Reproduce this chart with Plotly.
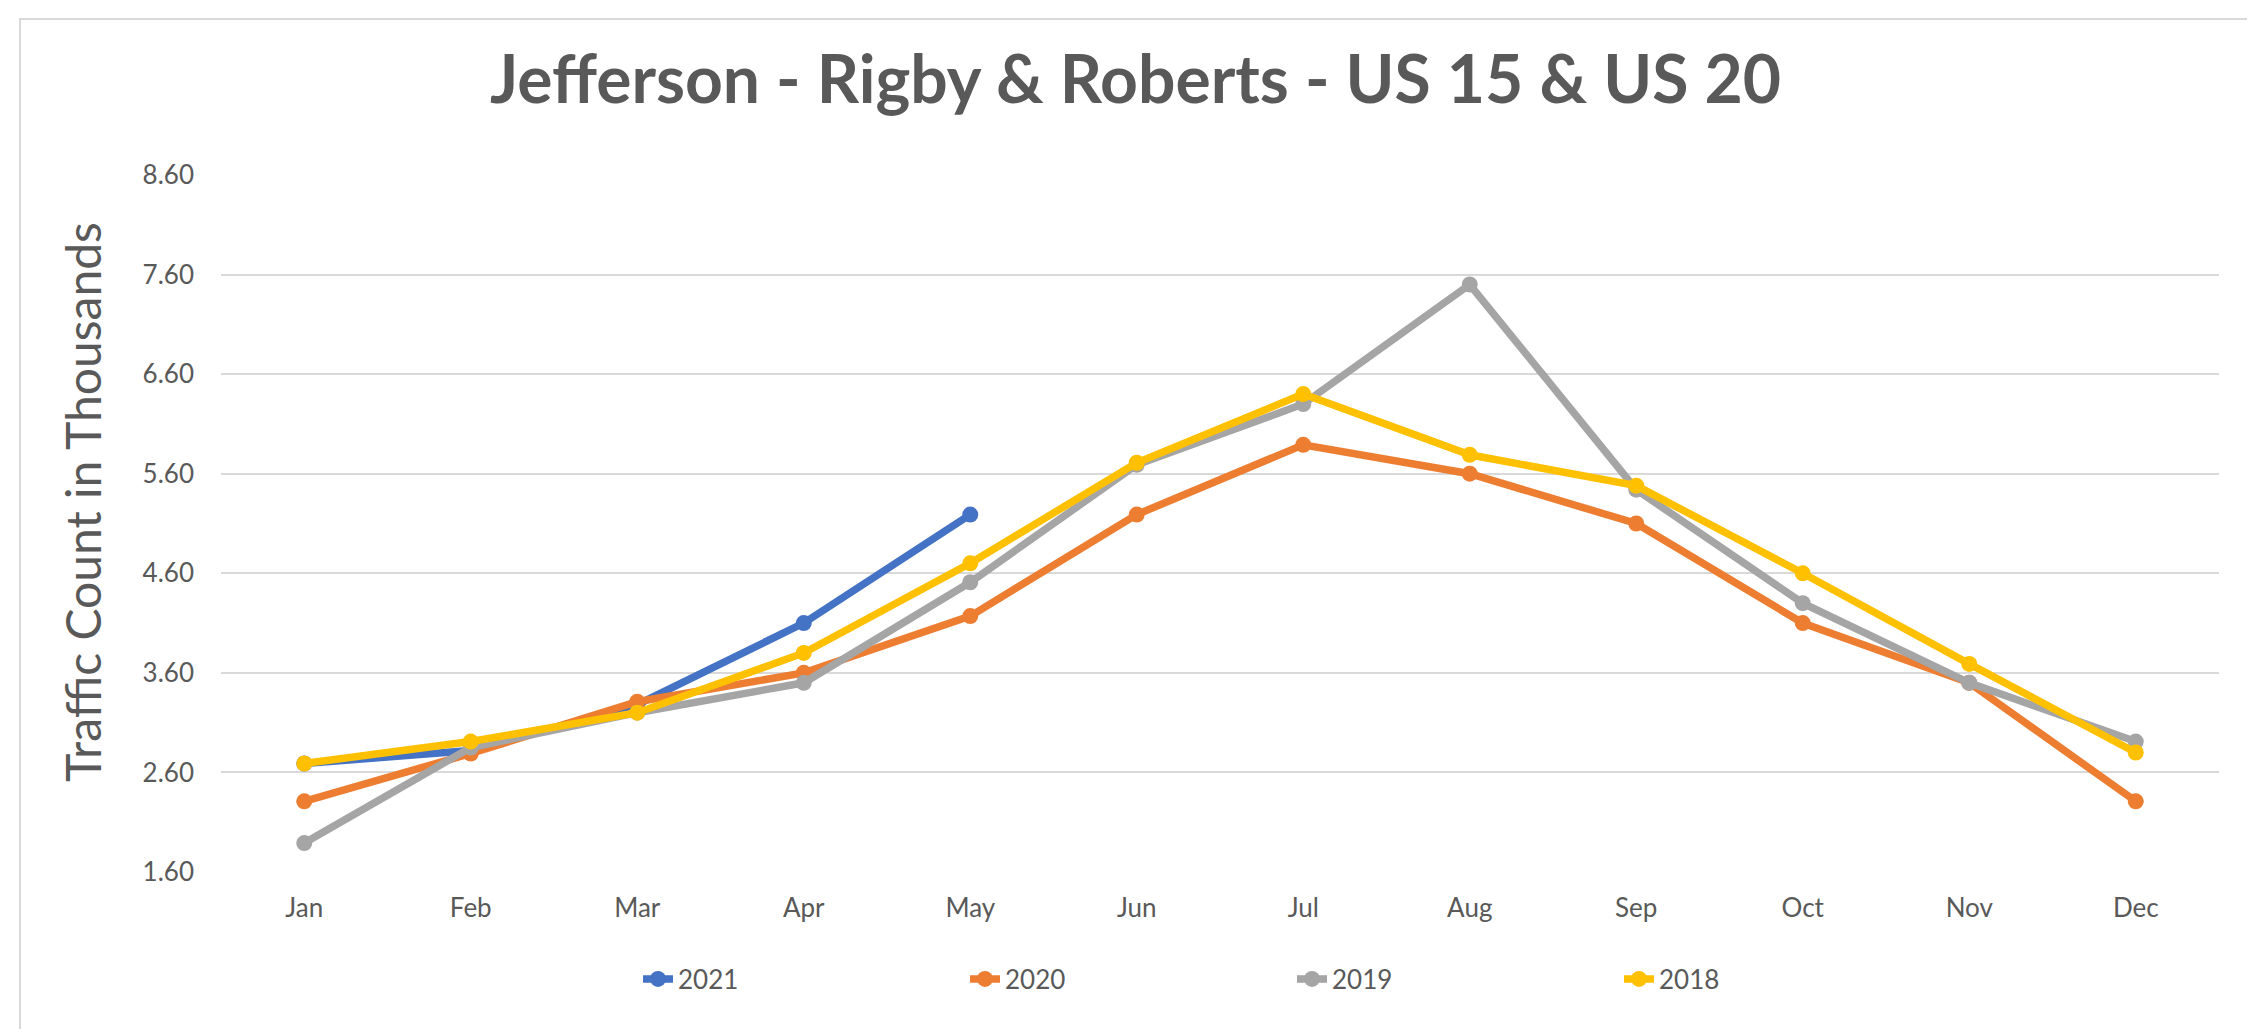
import plotly.graph_objects as go

months = ["Jan", "Feb", "Mar", "Apr", "May", "Jun", "Jul", "Aug", "Sep", "Oct", "Nov", "Dec"]
y2021 = [2.69, 2.82, 3.28, 4.10, 5.19]
y2020 = [2.31, 2.79, 3.31, 3.60, 4.17, 5.19, 5.89, 5.60, 5.10, 4.10, 3.50, 2.31]
y2019 = [1.89, 2.85, 3.20, 3.50, 4.51, 5.69, 6.30, 7.50, 5.44, 4.30, 3.50, 2.91]
y2018 = [2.69, 2.91, 3.20, 3.80, 4.70, 5.71, 6.40, 5.79, 5.48, 4.60, 3.69, 2.80]
yticks = [1.6, 2.6, 3.6, 4.6, 5.6, 6.6, 7.6, 8.6]

series = [
    ("2021", y2021, "#4472C4"),
    ("2020", y2020, "#ED7D31"),
    ("2019", y2019, "#A5A5A5"),
    ("2018", y2018, "#FFC000"),
]

W, H = 2255, 1029
ml, mr, mt, mb = 213, 44, 167, 165
pw, ph = W - ml - mr, H - mt - mb

fig = go.Figure()
for name, vals, color in series:
    fig.add_trace(go.Scatter(
        x=months[:len(vals)], y=vals, name=name, mode="lines+markers",
        line=dict(color=color, width=7.5),
        marker=dict(color=color, size=16),
    ))

TXT = "#595959"
fig.update_layout(
    width=W, height=H,
    margin=dict(l=ml, r=mr, t=mt, b=mb),
    paper_bgcolor="white", plot_bgcolor="white",
    font=dict(family="Lato, Open Sans, sans-serif", color=TXT, size=26),
    title=dict(
        text="<b>Jefferson - Rigby &amp; Roberts - US 15 &amp; US 20</b>",
        font=dict(family="Lato, Open Sans, sans-serif", size=66, color=TXT),
        x=0.5, xanchor="center", xref="container",
        y=1 - 72 / H, yanchor="middle", yref="container",
    ),
    xaxis=dict(
        type="category", categoryorder="array", categoryarray=months,
        range=[-0.5, 11.5], showgrid=False, zeroline=False,
        showline=False, ticks="", tickfont=dict(size=26, color=TXT),
        ticklabelstandoff=18,
    ),
    yaxis=dict(
        range=[1.6, 8.6], tickvals=yticks, tickformat=".2f",
        showgrid=True, gridcolor="#D9D9D9", gridwidth=2,
        zeroline=False, showline=False, ticks="",
        tickfont=dict(size=26, color=TXT), ticklabelstandoff=26,
    ),
    legend=dict(
        orientation="h", x=(630 - ml) / pw, xanchor="left",
        y=-(971 - (H - mb)) / ph, yanchor="middle",
        entrywidth=282, entrywidthmode="pixels",
        font=dict(size=26, color=TXT),
    ),
    showlegend=True,
)

# y-axis title placed as rotated text
fig.add_annotation(
    text="Traffic Count in Thousands", textangle=-90,
    xref="paper", yref="paper",
    x=(74 - ml) / pw, y=1 - (494 - mt) / ph,
    xanchor="center", yanchor="middle", showarrow=False,
    font=dict(size=48, color=TXT),
)

# light chart-area border
fig.add_shape(
    type="rect", xref="paper", yref="paper",
    x0=(12 - ml) / pw, x1=(2250 - ml) / pw,
    y0=-(1022 - (H - mb)) / ph, y1=1 + (mt - 11) / ph,
    line=dict(color="#D9D9D9", width=2), layer="below",
)

fig.write_html("out.html")
